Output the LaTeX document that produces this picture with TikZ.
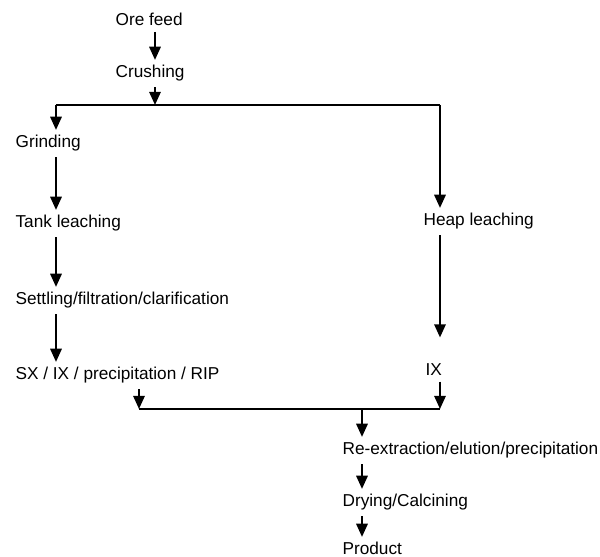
\documentclass[tikz,border=0pt]{standalone}
\usepackage{fontspec}
\setmainfont{Liberation Sans}
\usetikzlibrary{arrows.meta}
\tikzstyle{lbl}=[anchor=base west,inner sep=3pt,font=\fontsize{9.8}{12}\selectfont]
\tikzstyle{ln}=[line width=1.1pt]
\tikzstyle{arr}=[line width=1.1pt,-{Triangle[width=6.5pt,length=7.5pt]}]

\begin{document}
\begin{tikzpicture}[x=0.02cm,y=-0.02cm]
\useasboundingbox (0,0) rectangle (600,557);
\node[lbl] (ore) at (110,26) {Ore feed};
\node[lbl] (crush) at (110,78) {Crushing};
\node[lbl] (grind) at (10,148) {Grinding};
\node[lbl] (tank) at (10,228) {Tank leaching};
\node[lbl] (settle) at (10,305) {Settling/filtration/clarification};
\node[lbl] (sx) at (10,380) {SX / IX / precipitation / RIP};
\node[lbl] (heap) at (418,226) {Heap leaching};
\node[lbl] (ix) at (420,376) {IX};
\node[lbl] (reext) at (337,455) {Re-extraction/elution/precipitation};
\node[lbl] (dry) at (337,507) {Drying/Calcining};
\node[lbl] (prod) at (337,555) {Product};
% split and join points
\coordinate (splitL) at (56,105);
\coordinate (splitC) at (155,105);
\coordinate (splitR) at (440,105);
\coordinate (joinL) at (139,409);
\coordinate (joinM) at (362,409);
\coordinate (joinR) at (440,409);
\draw[arr] (ore.south -| splitC) -- (crush.north -| splitC);
\draw[arr] (crush.south -| splitC) -- (splitC);
\draw[ln] (splitL) -- (splitR);
% tank route
\draw[arr] (splitL) -- (grind.north -| splitL);
\draw[arr] (grind.south -| splitL) -- (tank.north -| splitL);
\draw[arr] (tank.south -| splitL) -- (settle.north -| splitL);
\draw[arr] (settle.south -| splitL) -- (sx.north -| splitL);
\draw[arr] (sx.south -| joinL) -- (joinL);
% heap route
\draw[arr] (splitR) -- (heap.north -| splitR);
\draw[arr,shorten >=12pt] (heap.south -| splitR) -- (ix.north -| splitR);
\draw[arr] (ix.south -| joinR) -- (joinR);
\draw[line width=0.8pt] (joinL) -- (joinR);
% product
\draw[arr] (joinM) -- (reext.north -| joinM);
\draw[arr] (reext.south -| joinM) -- (dry.north -| joinM);
\draw[arr] (dry.south -| joinM) -- (prod.north -| joinM);
\end{tikzpicture}
\end{document}
